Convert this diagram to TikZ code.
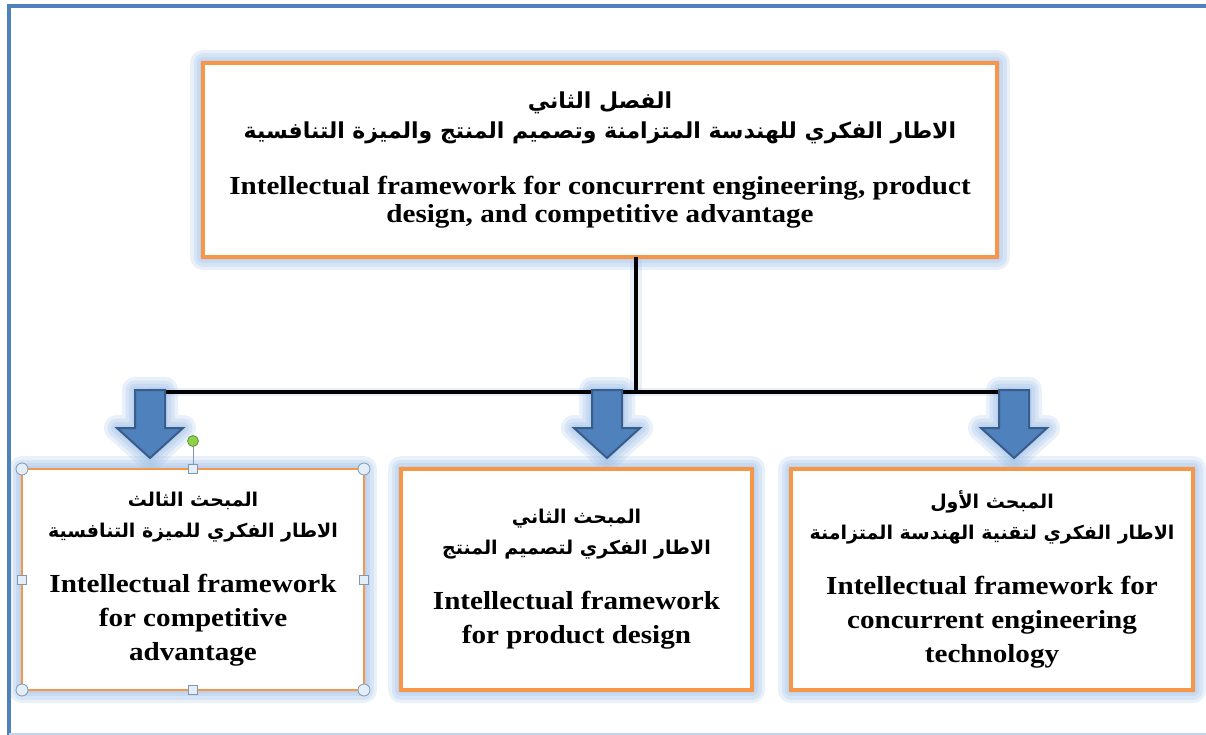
\documentclass[tikz,border=0pt]{standalone}
\usepackage{fontspec}
\setmainfont[FakeStretch=1.12]{Liberation Serif}
\newfontfamily\arabicfont[Script=Arabic]{DejaVu Sans}
\TeXXeTstate=1
\usepackage{tikz}
\usetikzlibrary{backgrounds}
\usepackage{xcolor}

\definecolor{frameblue}{HTML}{4F81BD}
\definecolor{arrowedge}{HTML}{385D8A}
\definecolor{boxorange}{HTML}{F79646}
\definecolor{glowblue}{HTML}{8DB4E2}
\definecolor{handlefill}{HTML}{E4EEF8}
\definecolor{handleedge}{HTML}{8296AE}
\definecolor{rotgreen}{HTML}{8ED14B}

\newcommand{\artext}[2][19]{{\arabicfont\bfseries\fontsize{#1}{32}\selectfont\beginR #2\endR}}

\begin{document}
\begin{tikzpicture}[
    x=1pt, y=-1pt,
    chapbox/.style={draw=boxorange, line width=4pt, fill=white, rectangle, outer sep=0pt, inner sep=0pt, align=center, font=\bfseries\fontsize{26}{28}\selectfont},
    secbox/.style={chapbox, font=\bfseries\fontsize{26}{34}\selectfont, minimum height=221pt},
    glow/.style={draw=glowblue, line width=#1, opacity=0.2, line join=round},
    bus/.style={draw=black, line width=4pt},
    blockarrow/.style={fill=frameblue, draw=arrowedge, line width=2pt, line join=miter},
    handle/.style={fill=handlefill, draw=handleedge, line width=0.8pt}
]
  \useasboundingbox (0,0) rectangle (1206,735);

  % Frame
  \draw[frameblue, line width=4pt] (9,745) -- (9,6) -- (1215,6);
  \draw[frameblue!35, line width=1.5pt] (9,734) -- (1206,734);

  % Nodes
  \node[chapbox, minimum width=794pt, minimum height=194pt] (chap) at (600,160) {%
    \artext[22]{الفصل الثاني}\\[2pt]
    \artext[22]{الاطار الفكري للهندسة المتزامنة وتصميم المنتج والميزة التنافسية}\\[28pt]
    Intellectual framework for concurrent engineering, product\\
    design, and competitive advantage};

  \node[secbox, minimum width=402pt] (sec1) at (992,579.5) {%
    \artext{المبحث الأول}\\[-3pt]
    \artext{الاطار الفكري لتقنية الهندسة المتزامنة}\\[21pt]
    Intellectual framework for\\
    concurrent engineering\\
    technology};

  \node[secbox, minimum width=351pt] (sec2) at (576.5,579.5) {%
    \artext{المبحث الثاني}\\[-3pt]
    \artext{الاطار الفكري لتصميم المنتج}\\[21pt]
    Intellectual framework\\
    for product design};

  \node[secbox, minimum width=342pt, line width=2.5pt] (sec3) at (193,579.5) {%
    \artext{المبحث الثالث}\\[-3pt]
    \artext{الاطار الفكري للميزة التنافسية}\\[21pt]
    Intellectual framework\\
    for competitive\\
    advantage};

  % Glow behind the boxes
  \begin{scope}[on background layer]
    \foreach \n in {chap,sec1,sec2,sec3}
      \foreach \w in {26,19,12,6}
        \draw[glow=\w pt] (\n.north west) rectangle (\n.south east);
  \end{scope}

  % Bus
  \coordinate (busR) at (1014,392);
  \coordinate (busL) at (150,392);
  \coordinate (drop) at ([xshift=36pt]chap.south);
  \begin{scope}[on background layer]
    \draw[glow=12pt] (drop) -- (drop |- busL);
    \draw[glow=8pt] (busL) -- (busR);
  \end{scope}
  \draw[bus] (drop) -- (drop |- busL);
  \draw[bus] (busL) -- (busR);

  % Block arrows into the sections
  \coordinate (a1) at (1014,390);
  \coordinate (a2) at (607,390);
  \coordinate (a3) at (150,390);
  \foreach \a in {a1,a2,a3} {
    \begin{scope}[on background layer, shift={(\a)}]
      \foreach \w in {26,19,12,6}
        \draw[glow=\w pt] (-15,0) -- (-15,38) -- (-33,38) -- (0,68) -- (33,38) -- (15,38) -- (15,0) -- cycle;
    \end{scope}
    \draw[blockarrow, shift={(\a)}] (-15,0) -- (-15,38) -- (-33,38) -- (0,68) -- (33,38) -- (15,38) -- (15,0) -- cycle;
  }

  % Selection handles on the third section
  \draw[handleedge, line width=1pt] (sec3.north) -- ++(0,-28) coordinate (rot);
  \filldraw[fill=rotgreen, draw=rotgreen!70!black, line width=0.8pt] (rot) circle (5.5);
  \foreach \c in {north west,north east,south west,south east}
    \filldraw[handle] (sec3.\c) circle (6);
  \foreach \c in {north,south,west,east}
    \filldraw[handle] ([shift={(-4.5,-4.5)}]sec3.\c) rectangle ++(9,9);

\end{tikzpicture}
\end{document}
